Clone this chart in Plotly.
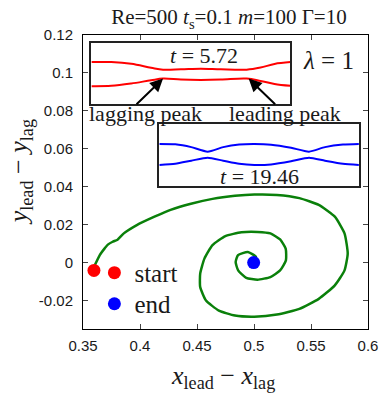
import plotly.graph_objects as go

# ---- main trajectory (x_lead - x_lag, y_lead - y_lag) ----
traj_x = [0.3604, 0.3647, 0.3690, 0.3718, 0.3760, 0.3803, 0.3858, 0.3972, 0.4127, 0.4268, 0.4438,
          0.4636, 0.4833, 0.5003, 0.5201, 0.5398, 0.5568, 0.5709, 0.5794, 0.5822, 0.5794,
          0.5709, 0.5568, 0.5398, 0.5201, 0.5003, 0.4833, 0.4692, 0.4579, 0.4528, 0.4528,
          0.4565, 0.4636, 0.4749, 0.4890, 0.5031, 0.5144, 0.5229, 0.5278, 0.5280, 0.5229,
          0.5144, 0.5031, 0.4932, 0.4861, 0.4839, 0.4860, 0.4946, 0.5017, 0.4997]
traj_y = [-0.0013, 0.0040, 0.0075, 0.0095, 0.0110, 0.0121, 0.0154, 0.0198, 0.0242, 0.0278, 0.0309,
          0.0336, 0.0352, 0.0359, 0.0357, 0.0340, 0.0304, 0.0242, 0.0154, 0.0048, -0.0041,
          -0.0120, -0.0191, -0.0244, -0.0274, -0.0285, -0.0279, -0.0253, -0.0200, -0.0129, -0.0058,
          0.0021, 0.0092, 0.0140, 0.0160, 0.0162, 0.0154, 0.0122, 0.0074, 0.0012, -0.0041,
          -0.0076, -0.0090, -0.0080, -0.0041, 0.0003, 0.0040, 0.0056, 0.0030, 0.0000]
start_x, start_y = [0.3596], [-0.0041]
end_x, end_y = [0.4997], [0.0000]

# ---- inset t = 5.72 (red), normalised inset coordinates ----
red_x = [0.0, 0.1, 0.2, 0.3, 0.36, 0.45, 0.55, 0.65, 0.78, 0.85, 0.92, 1.0]
red_up = [0.690, 0.690, 0.663, 0.598, 0.565, 0.571, 0.582, 0.571, 0.565, 0.600, 0.660, 0.690]
red_lo = [0.293, 0.299, 0.337, 0.391, 0.418, 0.402, 0.397, 0.402, 0.418, 0.380, 0.330, 0.299]

# ---- inset t = 19.46 (blue) ----
blue_x = [0.0, 0.08, 0.16, 0.242, 0.32, 0.40, 0.476, 0.56, 0.66, 0.75, 0.83, 0.92, 1.0]
blue_up = [0.681, 0.675, 0.630, 0.557, 0.630, 0.672, 0.681, 0.670, 0.620, 0.557, 0.630, 0.672, 0.681]
blue_lo = [0.341, 0.360, 0.410, 0.459, 0.410, 0.360, 0.341, 0.350, 0.400, 0.459, 0.410, 0.360, 0.341]

x_ticks = [0.35, 0.4, 0.45, 0.5, 0.55, 0.6]
x_ticktext = ["0.35", "0.4", "0.45", "0.5", "0.55", "0.6"]
y_ticks = [-0.02, 0, 0.02, 0.04, 0.06, 0.08, 0.1, 0.12]
y_ticktext = ["-0.02", "0", "0.02", "0.04", "0.06", "0.08", "0.1", "0.12"]

SERIF = "Liberation Serif"
SANS = "Liberation Sans"
TXT = "#1a1a1a"
SP = "&nbsp;"

fig = go.Figure()
fig.add_trace(go.Scatter(x=traj_x, y=traj_y, mode="lines",
                         line=dict(color="#0a800a", width=2.5, shape="spline", smoothing=0.5),
                         showlegend=False, hoverinfo="skip"))
fig.add_trace(go.Scatter(x=start_x, y=start_y, mode="markers", marker=dict(color="#ff0000", size=13),
                         name="start", legend="legend"))
fig.add_trace(go.Scatter(x=end_x, y=end_y, mode="markers", marker=dict(color="#0000ff", size=13),
                         name="end", legend="legend2"))

for yy in (red_up, red_lo):
    fig.add_trace(go.Scatter(x=red_x, y=yy, xaxis="x2", yaxis="y2", mode="lines",
                             line=dict(color="#ff0000", width=2, shape="spline"), showlegend=False))
for yy in (blue_up, blue_lo):
    fig.add_trace(go.Scatter(x=blue_x, y=yy, xaxis="x3", yaxis="y3", mode="lines",
                             line=dict(color="#0000ff", width=2, shape="spline", smoothing=0.6), showlegend=False))

axcommon = dict(showline=True, linecolor="black", linewidth=1, mirror="ticks", ticks="inside", ticklen=5,
                tickcolor="#444", tickwidth=1, showgrid=False, zeroline=False, ticklabeloverflow="allow",
                tickfont=dict(family=SANS, size=15, color=TXT))
inset = dict(range=[0, 1], showline=True, linecolor="#222", linewidth=1.5, mirror=True, showticklabels=False,
             ticks="", showgrid=False, zeroline=False, fixedrange=True)
legcommon = dict(x=0.04, xanchor="left", yanchor="top", bgcolor="rgba(0,0,0,0)",
                 font=dict(family=SERIF, size=25, color=TXT))

fig.update_layout(
    width=388, height=394,
    margin=dict(l=83, r=10, t=35, b=65),
    paper_bgcolor="white", plot_bgcolor="white",
    xaxis=dict(range=[0.35, 0.6000001], tickvals=x_ticks, ticktext=x_ticktext, ticklabelstandoff=3, **axcommon),
    yaxis=dict(range=[-0.035, 0.12], tickvals=y_ticks, ticktext=y_ticktext, ticklabelstandoff=6, **axcommon),
    xaxis2=dict(domain=[0.0295, 0.7278], anchor="y2", **inset),
    yaxis2=dict(domain=[0.7653, 0.9718], anchor="x2", **inset),
    xaxis3=dict(domain=[0.2678, 0.9681], anchor="y3", **inset),
    yaxis3=dict(domain=[0.4864, 0.6963], anchor="x3", **inset),
    title=dict(text="Re=500 <i>t</i><sub>s</sub>=0.1 <i>m</i>=100 Γ=10", x=0.59, xanchor="center",
               y=1 - 17 / 394, yanchor="middle", font=dict(family=SERIF, size=21, color=TXT)),
    legend=dict(y=0.269, **legcommon),
    legend2=dict(y=0.1633, **legcommon),
    showlegend=True,
)

ann = []
ann.append(dict(text=f"<i>t</i>{SP}={SP}5.72", xref="x2", yref="y2", x=0.565, y=0.8, showarrow=False,
                xanchor="center", font=dict(family=SERIF, size=22, color=TXT)))
ann.append(dict(text=f"<i>t</i>{SP}={SP}19.46", xref="x3", yref="y3", x=0.5, y=0.15, showarrow=False,
                xanchor="center", font=dict(family=SERIF, size=22, color=TXT)))
ann.append(dict(text="", xref="x2", yref="y2", x=0.36, y=0.418, ax=-28, ay=27, showarrow=True,
                arrowhead=2, arrowsize=1.3, arrowwidth=2, arrowcolor="black"))
ann.append(dict(text="", xref="x2", yref="y2", x=0.79, y=0.418, ax=28, ay=27, showarrow=True,
                arrowhead=2, arrowsize=1.3, arrowwidth=2, arrowcolor="black"))
ann.append(dict(text="lagging peak", xref="paper", yref="paper", x=0.218, y=0.734, showarrow=False,
                xanchor="center", yanchor="middle", font=dict(family=SERIF, size=22, color=TXT)))
ann.append(dict(text="leading peak", xref="paper", yref="paper", x=0.708, y=0.734, showarrow=False,
                xanchor="center", yanchor="middle", font=dict(family=SERIF, size=22, color=TXT)))
ann.append(dict(text=f"<i>λ</i>{SP}={SP}1", xref="paper", yref="paper", x=0.861, y=0.914, showarrow=False,
                xanchor="center", yanchor="middle", font=dict(family=SERIF, size=25, color=TXT)))
ann.append(dict(text=f"<i>x</i><sub>lead</sub>{SP}−{SP}<i>x</i><sub>lag</sub>", xref="paper", yref="paper",
                x=0.4915, y=-0.162, xanchor="center", yanchor="middle", showarrow=False,
                font=dict(family=SERIF, size=26, color=TXT)))
ann.append(dict(text=f"<i>y</i><sub>lead</sub>{SP}−{SP}<i>y</i><sub>lag</sub>", xref="paper", yref="paper",
                x=-0.22, y=0.534, xanchor="center", yanchor="middle", textangle=-90, showarrow=False,
                font=dict(family=SERIF, size=26, color=TXT)))
fig.update_layout(annotations=ann)

fig.write_html("out.html")
